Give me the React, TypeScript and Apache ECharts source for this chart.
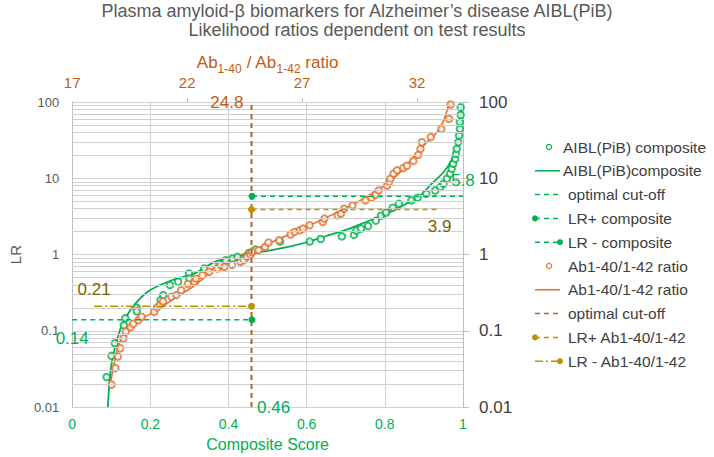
import React, { useEffect, useRef } from 'react';
import * as echarts from 'echarts';

// ---------- data ----------
const compositeScatter: [number, number][] = [
  [0.088, 0.0247], [0.1005, 0.0469], [0.109, 0.0687], [0.132, 0.118], [0.136, 0.146],
  [0.165, 0.201], [0.165, 0.18], [0.226, 0.253], [0.233, 0.294], [0.25, 0.397], [0.271, 0.44],
  [0.299, 0.565], [0.3, 0.485], [0.338, 0.656], [0.376, 0.762], [0.393, 0.842],
  [0.41, 0.887], [0.423, 0.933], [0.452, 1.05], [0.468, 1.16], [0.532, 1.48],
  [0.608, 1.48], [0.636, 1.6], [0.69, 1.73], [0.721, 1.81], [0.727, 2.06],
  [0.739, 2.19], [0.757, 2.36], [0.777, 2.78], [0.79, 3.23], [0.803, 3.54],
  [0.82, 4.11], [0.836, 4.64], [0.868, 5.13], [0.884, 5.56], [0.906, 6.27],
  [0.929, 6.92], [0.942, 7.67], [0.95, 8.47], [0.959, 9.85], [0.967, 11.5],
  [0.971, 13.3], [0.975, 15.5], [0.98, 18], [0.982, 20.9], [0.984, 24.3],
  [0.988, 29.7], [0.99, 36.3], [0.992, 44.4], [0.992, 54.3], [0.994, 67.6], [0.994, 85],
];
const compositeFit: [number, number][] = [
  [0.091, 0.01], [0.099, 0.032], [0.111, 0.065], [0.127, 0.118], [0.152, 0.197],
  [0.195, 0.33], [0.25, 0.45], [0.314, 0.57], [0.367, 0.81], [0.461, 1.03],
  [0.5, 1.12], [0.55, 1.25], [0.6, 1.45], [0.65, 1.75], [0.7, 2.1], [0.75, 2.65],
  [0.8, 3.35], [0.85, 4.5], [0.89, 5.9], [0.92, 8.5], [0.95, 12], [0.97, 17],
  [0.985, 27], [0.992, 50], [0.996, 90],
];
const ratioScatter: [number, number][] = [
  [18.71, 0.0197], [18.88, 0.0324], [18.99, 0.046], [19.09, 0.059], [19.23, 0.08],
  [19.33, 0.098], [19.54, 0.111], [19.66, 0.124], [19.88, 0.138], [20.02, 0.153],
  [20.57, 0.177], [20.7, 0.203], [20.81, 0.217], [20.95, 0.243], [21.31, 0.28],
  [21.53, 0.294], [21.74, 0.341], [22.03, 0.411], [22.32, 0.44], [22.38, 0.486],
  [22.67, 0.536], [22.96, 0.594], [23.32, 0.656], [23.46, 0.725], [23.62, 0.69],
  [23.96, 0.733], [24.32, 0.803], [24.46, 0.842], [24.61, 0.933], [24.75, 0.991],
  [24.82, 1.08], [25.11, 1.14], [25.39, 1.26], [25.54, 1.44], [26.0, 1.54],
  [26.5, 1.83], [26.68, 1.98], [26.9, 2.08], [27.04, 2.19], [27.33, 2.42],
  [27.9, 2.67], [27.97, 2.96], [28.55, 3.26], [28.69, 3.44], [28.83, 3.99],
  [29.19, 4.41], [29.76, 5.13], [30.02, 5.56], [30.19, 6.09], [30.33, 6.93],
  [30.7, 8.05], [30.79, 8.92], [30.84, 9.85], [30.98, 11.5], [31.13, 12.7],
  [31.4, 13.6], [31.56, 14.6], [31.84, 16.9], [32.05, 20.3], [32.15, 24.3],
  [32.21, 29.7], [32.6, 34.6], [33.06, 44.4], [33.39, 60], [33.46, 92.8],
];
const ratioFit: [number, number][] = [
  [18.68, 0.022], [19.02, 0.065], [19.32, 0.098], [19.88, 0.137], [20.61, 0.18],
  [21.47, 0.27], [22.46, 0.42], [23.23, 0.7], [24.0, 0.9], [24.82, 1.13],
  [26.0, 1.6], [27.0, 2.2], [27.96, 2.96], [29.42, 4.9], [30.54, 7.9],
  [31.27, 12], [32.13, 24], [32.99, 45], [33.42, 100],
];
const compositeCutoff = 0.46;
const ratioCutoff = 24.8;
const compositeLRplus = 5.8;
const compositeLRminus = 0.14;
const ratioLRplus = 3.9;
const ratioLRminus = 0.21;
const ratioLRplusEnd = 32.85;
const ratioLRminusStart = 17.95;

const topLabelValues = [17, 22, 27, 32];
const topTickValues = [22, 27, 32];

const legendItems = [
  { name: 'AIBL(PiB) composite', kind: 'circle', color: '#00b050', tx: 563 },
  { name: 'AIBL(PiB)composite', kind: 'line', color: '#00b050', tx: 563 },
  { name: 'optimal cut-off', kind: 'dash', color: '#00b050', tx: 568 },
  { name: 'LR+ composite', kind: 'dotLeft', color: '#00b050', tx: 568 },
  { name: 'LR - composite', kind: 'dotRight', color: '#00b050', tx: 568 },
  { name: 'Ab1-40/1-42 ratio', kind: 'circle', color: '#e2712d', tx: 568 },
  { name: 'Ab1-40/1-42 ratio', kind: 'line', color: '#e2712d', tx: 568 },
  { name: 'optimal cut-off', kind: 'dash', color: '#b4622a', tx: 568 },
  { name: 'LR+ Ab1-40/1-42', kind: 'dotLeft', color: '#bf9000', tx: 568 },
  { name: 'LR - Ab1-40/1-42', kind: 'dashDotRight', color: '#bf9000', tx: 568 },
];

const G = '#00b050';
const O = '#e2712d';
const OT = '#c55a11';
const BROWN = '#b4622a';
const GOLD = '#bf9000';
const GOLDT = '#7f6000';
const GRID = '#d0d0d0';
const FONT = '"Liberation Sans", Arial, sans-serif';
const DASH = [5, 4];
const DASHDOT = [8, 3, 2, 3];

function buildLegend() {
  const els: any[] = [];
  legendItems.forEach((it, i) => {
    const y = 147 + i * 23.8;
    const x1 = 535;
    const x2 = 560;
    if (it.kind === 'circle') {
      els.push({ type: 'circle', shape: { cx: 549, cy: y, r: 2.6 }, style: { fill: '#fff', stroke: it.color, lineWidth: 1.2 } });
    } else {
      const dash = it.kind === 'line' ? null : it.kind === 'dashDotRight' ? DASHDOT : DASH;
      els.push({ type: 'line', shape: { x1, y1: y, x2, y2: y }, style: { stroke: it.color, lineWidth: 1.5, lineDash: dash } });
      if (it.kind === 'dotLeft') els.push({ type: 'circle', shape: { cx: x1, cy: y, r: 3 }, style: { fill: it.color } });
      if (it.kind === 'dotRight' || it.kind === 'dashDotRight')
        els.push({ type: 'circle', shape: { cx: x2, cy: y, r: 3 }, style: { fill: it.color } });
    }
    els.push({
      type: 'text', x: it.tx, y,
      style: { text: it.name, fill: '#404040', font: `15.5px ${FONT}`, textVerticalAlign: 'middle', verticalAlign: 'middle' },
    });
  });
  return els;
}

function minorGridValues() {
  const vals: number[] = [];
  for (let k = -2; k <= 1; k++) {
    for (let m = 2; m <= 9; m++) vals.push(Number((m * Math.pow(10, k)).toPrecision(3)));
  }
  return vals;
}

const lbl = (text: string, position: string, distance: number, color: string, extra: any = {}) => ({
  show: true, position, distance, formatter: text, color, fontSize: 17, fontFamily: FONT, ...extra,
});

export default function App() {
  const ref = useRef<HTMLDivElement>(null);
  useEffect(() => {
    document.body.style.margin = '0';
    const chart = echarts.init(ref.current!, null, { renderer: 'svg' });
    const option: any = {
      animation: false,
      backgroundColor: '#ffffff',
      textStyle: { fontFamily: FONT },
      title: {
        text: 'Plasma amyloid-β biomarkers for Alzheimer\u2019s disease AIBL(PiB)\nLikelihood ratios dependent on test results',
        left: 'center',
        top: -4,
        textStyle: { fontSize: 18, fontWeight: 'normal', color: '#595959', lineHeight: 19, fontFamily: FONT },
      },
      grid: { left: 68, right: 251, top: 102, bottom: 49, containLabel: false },
      xAxis: [
        {
          type: 'value', position: 'bottom', min: 0, max: 1, interval: 0.2,
          name: 'Composite Score', nameLocation: 'middle', nameGap: 27,
          nameTextStyle: { color: G, fontSize: 16, fontFamily: FONT },
          axisLine: { show: false }, axisTick: { show: false },
          axisLabel: { color: G, fontSize: 14, margin: 10, formatter: (v: number) => String(Number(v.toFixed(1))) },
          splitLine: { show: true, lineStyle: { color: GRID, width: 1 } },
        },
        {
          type: 'value', position: 'top', min: 17, max: 34,
          name: '{m|Ab}{s|1-40}{m| / Ab}{s|1-42}{m| ratio}',
          nameLocation: 'middle', nameGap: 31, nameMoveOverlap: false,
          nameTextStyle: {
            rich: {
              m: { color: OT, fontSize: 17, fontFamily: FONT, verticalAlign: 'bottom' },
              s: { color: OT, fontSize: 12, fontFamily: FONT, verticalAlign: 'bottom', padding: [0, 0, -4, 0] },
            },
          },
          axisLine: { show: false },
          axisTick: { show: true, length: 4, customValues: topTickValues, lineStyle: { color: '#bfbfbf' } },
          axisLabel: { color: OT, fontSize: 15, margin: 12, customValues: topLabelValues },
          splitLine: { show: false },
        },
      ],
      yAxis: [
        {
          type: 'log', logBase: 10, position: 'left', min: 0.01, max: 100,
          name: 'LR', nameLocation: 'middle', nameGap: 45, nameRotate: 90,
          nameTextStyle: { color: '#595959', fontSize: 15, fontFamily: FONT },
          axisLine: { show: true, lineStyle: { color: '#bfbfbf' } },
          axisTick: { show: false },
          axisLabel: { color: '#595959', fontSize: 13, margin: 13, formatter: (v: number) => String(v) },
          splitLine: { show: true, lineStyle: { color: GRID, width: 1 } },
        },
        {
          type: 'log', logBase: 10, position: 'right', min: 0.01, max: 100,
          axisLine: { show: true, lineStyle: { color: '#bfbfbf' } },
          axisTick: { show: true, length: 6, lineStyle: { color: '#bfbfbf' } },
          axisLabel: { color: '#404040', fontSize: 17, margin: 16, formatter: (v: number) => String(v) },
          splitLine: { show: false },
        },
      ],
      graphic: buildLegend(),
      series: [
        {
          type: 'line', name: 'minor grid', data: [], z: 1, silent: true,
          markLine: {
            silent: true, symbol: ['none', 'none'], label: { show: false },
            lineStyle: { color: GRID, width: 1, type: 'solid' },
            data: minorGridValues().map((v) => ({ yAxis: v })),
          },
        },
        {
          type: 'line', name: 'optimal cut-off composite', clip: false, symbol: 'circle', symbolSize: 0.1,
          lineStyle: { color: G, width: 1.5, type: DASH, opacity: 0 }, itemStyle: { color: G },
          data: [
            { value: [compositeCutoff, 0.01], label: lbl('0.46', 'right', 5, G) },
            { value: [compositeCutoff, 100] },
          ],
          z: 2,
        },
        {
          type: 'line', name: 'AIBL(PiB)composite', data: compositeFit, smooth: 0.3, symbol: 'none',
          lineStyle: { color: G, width: 1.8 }, z: 3,
        },
        {
          type: 'scatter', name: 'AIBL(PiB) composite', data: compositeScatter, symbol: 'emptyCircle', symbolSize: 6.5,
          itemStyle: { color: G, borderColor: G, borderWidth: 1.1 }, z: 4,
        },
        {
          type: 'line', name: 'Ab1-40/1-42 ratio fit', xAxisIndex: 1, data: ratioFit, smooth: 0.3, symbol: 'none',
          lineStyle: { color: O, width: 1.6 }, z: 3,
        },
        {
          type: 'scatter', name: 'Ab1-40/1-42 ratio', xAxisIndex: 1, data: ratioScatter, symbol: 'emptyCircle', symbolSize: 6.5,
          itemStyle: { color: O, borderColor: O, borderWidth: 1.1 }, z: 4,
        },
        {
          type: 'line', name: 'optimal cut-off ratio', xAxisIndex: 1, clip: false, symbol: 'circle', symbolSize: 0.1,
          lineStyle: { color: BROWN, width: 2, type: DASH }, itemStyle: { color: BROWN },
          data: [
            { value: [ratioCutoff, 0.01] },
            { value: [ratioCutoff, 100], label: lbl('24.8', 'left', 8, OT) },
          ],
          z: 8,
        },
        {
          type: 'line', name: 'LR+ composite', clip: false, symbol: 'circle', symbolSize: 0.1,
          lineStyle: { color: G, width: 1.5, type: DASH }, itemStyle: { color: G },
          data: [
            { value: [compositeCutoff, compositeLRplus], symbolSize: 7 },
            { value: [1, compositeLRplus], label: lbl('5.8', 'top', 7, G) },
          ],
          z: 9,
        },
        {
          type: 'line', name: 'LR - composite', clip: false, symbol: 'circle', symbolSize: 0.1,
          lineStyle: { color: G, width: 1.5, type: DASH }, itemStyle: { color: G },
          data: [
            { value: [0, compositeLRminus], label: lbl('0.14', 'bottom', 10, G) },
            { value: [compositeCutoff, compositeLRminus], symbolSize: 7 },
          ],
          z: 9,
        },
        {
          type: 'line', name: 'LR+ Ab1-40/1-42', xAxisIndex: 1, clip: false, symbol: 'circle', symbolSize: 0.1,
          lineStyle: { color: GOLD, width: 1.5, type: DASH }, itemStyle: { color: GOLD },
          data: [
            { value: [ratioCutoff, ratioLRplus], symbolSize: 7 },
            { value: [ratioLRplusEnd, ratioLRplus], label: lbl('3.9', 'bottom', 8, GOLDT, { offset: [3, 0] }) },
          ],
          z: 9,
        },
        {
          type: 'line', name: 'LR - Ab1-40/1-42', xAxisIndex: 1, clip: false, symbol: 'circle', symbolSize: 0.1,
          lineStyle: { color: GOLD, width: 1.5, type: DASHDOT }, itemStyle: { color: GOLD },
          data: [
            { value: [ratioLRminusStart, ratioLRminus], label: lbl('0.21', 'top', 8, GOLDT) },
            { value: [ratioCutoff, ratioLRminus], symbolSize: 7 },
          ],
          z: 9,
        },
      ],
    };
    chart.setOption(option);
    return () => chart.dispose();
  }, []);
  return <div ref={ref} style={{ width: 714, height: 457 }} />;
}
